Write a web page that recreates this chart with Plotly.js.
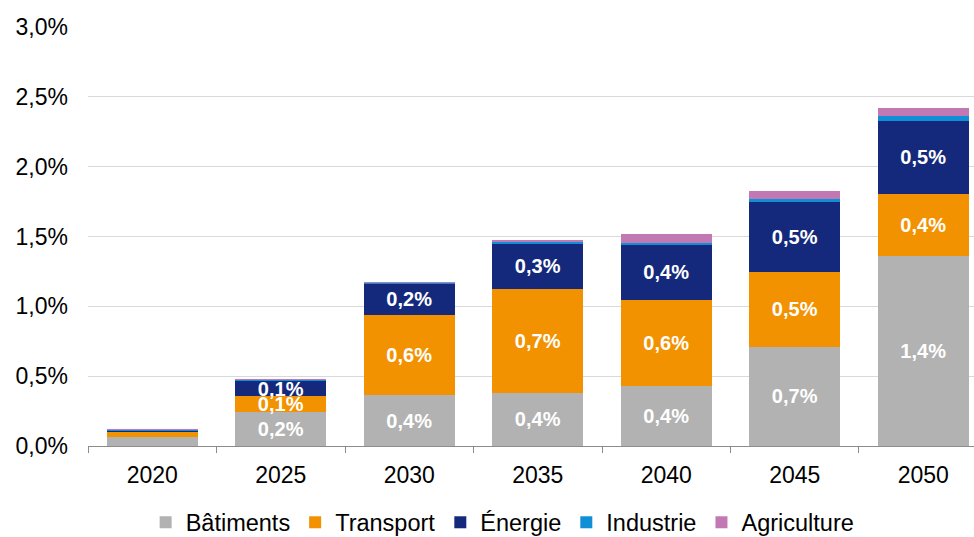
<!DOCTYPE html>
<html>
<head>
<meta charset="utf-8">
<script src="https://cdn.plot.ly/plotly-3.0.1.min.js"></script>
<style>html,body{margin:0;padding:0;background:#fff;}#chart{width:974px;height:537px;}</style>
</head>
<body>
<div id="chart"></div>
<script>
// Years (categories)
const years = ['2020', '2025', '2030', '2035', '2040', '2045', '2050'];
// Values in percent
const batiments   = [0.067, 0.243, 0.365, 0.380, 0.430, 0.709, 1.360];
const transport   = [0.036, 0.115, 0.573, 0.745, 0.616, 0.540, 0.444];
const energie     = [0.004, 0.107, 0.222, 0.322, 0.394, 0.496, 0.525];
const industrie   = [0.010, 0.008, 0.006, 0.012, 0.016, 0.024, 0.036];
const agriculture = [0.002, 0.008, 0.008, 0.016, 0.060, 0.060, 0.057];
const seriesNames = ['Bâtiments', 'Transport', 'Énergie', 'Industrie', 'Agriculture'];
const seriesColors = ['#B2B2B2', '#F39200', '#15297C', '#0F8FD6', '#C278B2'];
const allSeries = [batiments, transport, energie, industrie, agriculture];

const traces = allSeries.map((vals, i) => ({
  type: 'bar',
  name: seriesNames[i],
  x: years,
  y: vals,
  marker: {color: seriesColors[i], line: {width: 0}},
  texttemplate: vals.map(v => v >= 0.1 ? '%{y:.1f}%' : ''),
  textposition: 'inside',
  insidetextanchor: 'middle',
  textangle: 0,
  insidetextfont: {family: 'Liberation Sans, Arial, sans-serif', size: 20, color: '#FFFFFF', weight: 'bold'},
  hoverinfo: 'none'
}));

const layout = {
  width: 974,
  height: 537,
  barmode: 'stack',
  bargap: 0.29,
  separators: ', ',
  paper_bgcolor: '#FFFFFF',
  plot_bgcolor: '#FFFFFF',
  margin: {l: 88, r: 0, t: 27, b: 91, autoexpand: false},
  font: {family: 'Liberation Sans, Arial, sans-serif', size: 23, color: '#000000'},
  uniformtext: {mode: 'show', minsize: 20},
  xaxis: {
    type: 'category',
    range: [-0.5, 6.395],
    automargin: false,
    showline: true,
    linecolor: '#8C8C8C',
    linewidth: 1,
    ticks: 'outside',
    tickson: 'boundaries',
    ticklen: 6,
    tickcolor: '#8C8C8C',
    showgrid: false,
    ticklabelstandoff: 8,
    tickfont: {size: 23, color: '#000000'}
  },
  yaxis: {
    range: [0, 3.0],
    dtick: 0.5,
    automargin: false,
    tickformat: '.1f',
    ticksuffix: '%',
    showgrid: true,
    gridcolor: '#D9D9D9',
    gridwidth: 1,
    zeroline: false,
    showline: false,
    ticks: '',
    ticklabelstandoff: 19,
    tickfont: {size: 23, color: '#000000'}
  },
  showlegend: true,
  legend: {
    orientation: 'h',
    x: 0.468,
    xanchor: 'center',
    yref: 'container',
    y: 0.027,
    yanchor: 'middle',
    traceorder: 'normal',
    font: {size: 23.5, color: '#000000'},
    itemclick: false
  }
};

Plotly.newPlot('chart', traces, layout, {displayModeBar: false, staticPlot: true});
</script>
</body>
</html>
